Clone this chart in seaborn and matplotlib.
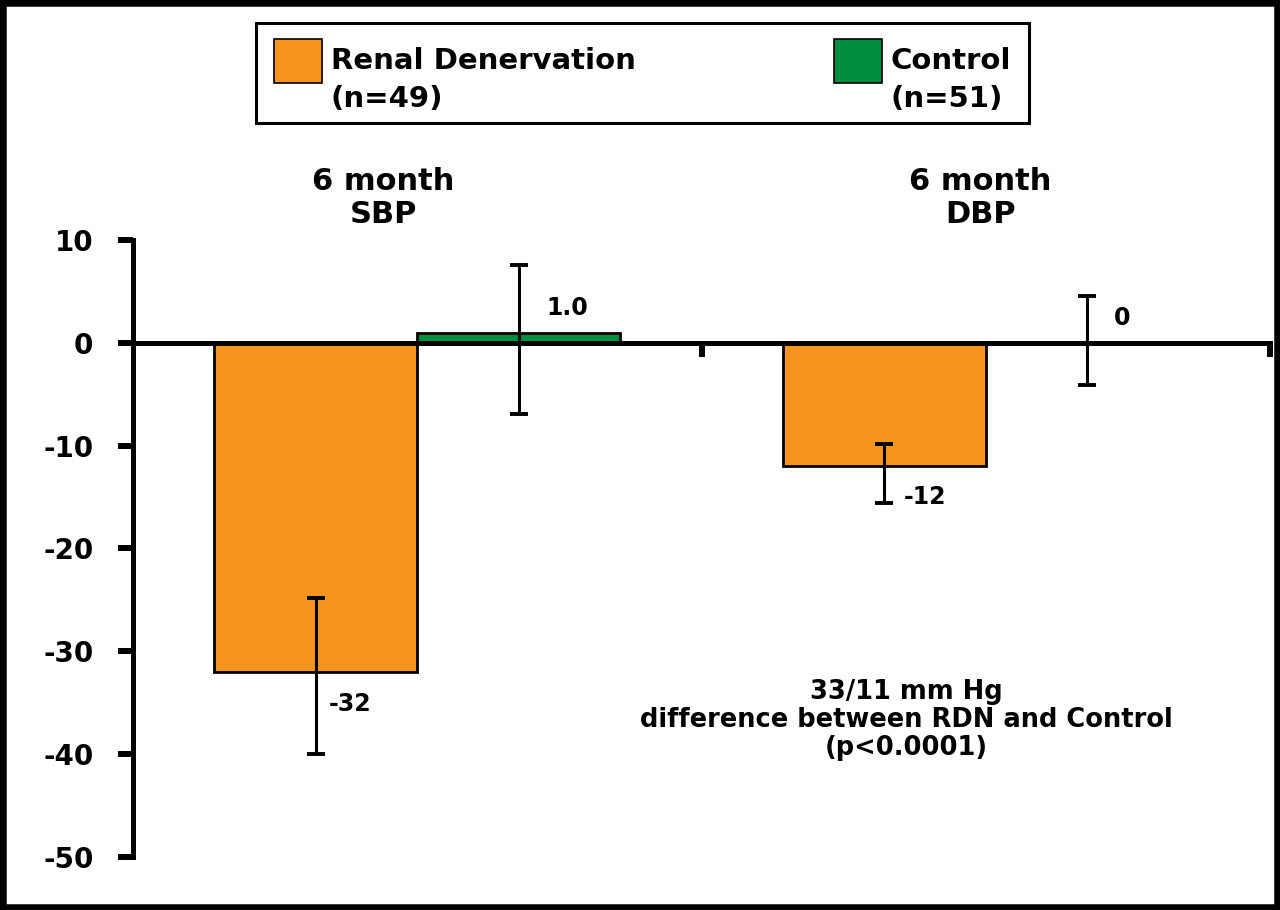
import numpy as np
import pandas as pd
import seaborn as sns
import matplotlib.pyplot as plt
from matplotlib.patches import Rectangle

# values (mm Hg change at 6 months)
periods = ['6 month\nSBP', '6 month\nDBP']
groups = ['Renal Denervation\n(n=49)', 'Control\n(n=51)']
rdn_change = [-32, -12]
ctl_change = [1.0, 0]
rdn_err_low = [-40.0, -15.6]
rdn_err_high = [-24.8, -9.8]
ctl_err_low = [-6.9, -4.1]
ctl_err_high = [7.6, 4.6]
rdn_labels = ['-32', '-12']
ctl_labels = ['1.0', '0']
note = '33/11 mm Hg\ndifference between RDN and Control\n(p<0.0001)'

sns.set_style('white')
plt.rcParams['font.family'] = ['DejaVu Sans']
plt.rcParams['font.weight'] = 'bold'
plt.rcParams['axes.unicode_minus'] = False
for key in ['text.color', 'axes.labelcolor', 'xtick.color', 'ytick.color', 'axes.edgecolor']:
    plt.rcParams[key] = 'black'

df = pd.DataFrame({
    'period': periods * 2,
    'group': [groups[0]] * 2 + [groups[1]] * 2,
    'change': rdn_change + ctl_change,
})
palette = {groups[0]: '#F7941E', groups[1]: '#008D40'}

fig = plt.figure(figsize=(12.8, 9.1), dpi=100)
ax = fig.add_axes([133 / 1280, 1 - 857 / 910, (1270 - 133) / 1280, (857 - 240) / 910])

sns.barplot(data=df, x='period', y='change', hue='group', order=periods, hue_order=groups,
            palette=palette, width=0.714, errorbar=None, saturation=1,
            edgecolor='black', linewidth=2.0, ax=ax)

# error bars + value labels, placed on the bars seaborn drew
lows = [rdn_err_low, ctl_err_low]
highs = [rdn_err_high, ctl_err_high]
vals = [rdn_change, ctl_change]
labels = [rdn_labels, ctl_labels]
label_y = [[-35.1, -15.0], [3.4, 2.4]]   # where the numbers sit
label_dx = [[9, 14], [20, 19]]           # points right of the whisker
bar_conts = list(ax.containers)
for k, cont in enumerate(bar_conts):
    for i, bar in enumerate(cont):
        xc = bar.get_x() + bar.get_width() / 2
        v = vals[k][i]
        ax.errorbar(xc, v, yerr=[[v - lows[k][i]], [highs[k][i] - v]], fmt='none',
                    ecolor='black', elinewidth=2.2, capsize=6.5, capthick=2.8, zorder=5)
        ax.annotate(labels[k][i], (xc, label_y[k][i]), xytext=(label_dx[k][i], 0),
                    textcoords='offset points', ha='left', va='center', fontsize=17)

ax.set_xlim(-0.5, 1.5)
ax.set_ylim(-50, 10)
ax.set_yticks(np.arange(-50, 11, 10))
ax.set_xticks([0.5, 1.5])
ax.set_xticklabels(['', ''])
ax.set_xlabel('')
ax.set_ylabel('')
ax.spines['top'].set_visible(False)
ax.spines['right'].set_visible(False)
ax.spines['bottom'].set_position(('data', 0))
for s in ['left', 'bottom']:
    ax.spines[s].set_linewidth(3.6)
    ax.spines[s].set_zorder(4)
ax.tick_params(axis='y', left=True, direction='out', length=11, width=4.3, pad=17.5, labelsize=20)
ax.tick_params(axis='x', bottom=True, direction='out', length=10, width=4.3)

# group titles above the plot
for x, lab in zip([-0.06, 0.99], periods):
    ax.text(x, 14.1, lab, ha='center', va='center', fontsize=22, linespacing=1.15, clip_on=False)

ax.text(0.861, -36.7, note, ha='center', va='center', fontsize=18.5, linespacing=1.1)

sns.move_legend(ax, 'center', bbox_to_anchor=(0.502, 0.9198), bbox_transform=fig.transFigure,
                ncol=2, title=None, frameon=True, fancybox=False, edgecolor='black',
                fontsize=21, handlelength=1.65, handleheight=1.94, handletextpad=0.3,
                columnspacing=6.8, borderpad=0.6, framealpha=1)
leg = ax.get_legend()
leg.get_frame().set_linewidth(2.2)
for t in leg.get_texts():
    t.set_linespacing(1.45)
    t.set_position((0, -7))   # text sits low in the box on the slide
for h in leg.legend_handles:
    h.set_edgecolor('black')
    h.set_linewidth(1.2)
    h.set_y(h.get_y() + 10)   # line the swatch up with the first text line

fig.patches.append(Rectangle((0, 0), 1, 1, transform=fig.transFigure, fill=False,
                             edgecolor='black', linewidth=9, zorder=10))

fig.savefig('out.png', dpi=100, facecolor='white')
